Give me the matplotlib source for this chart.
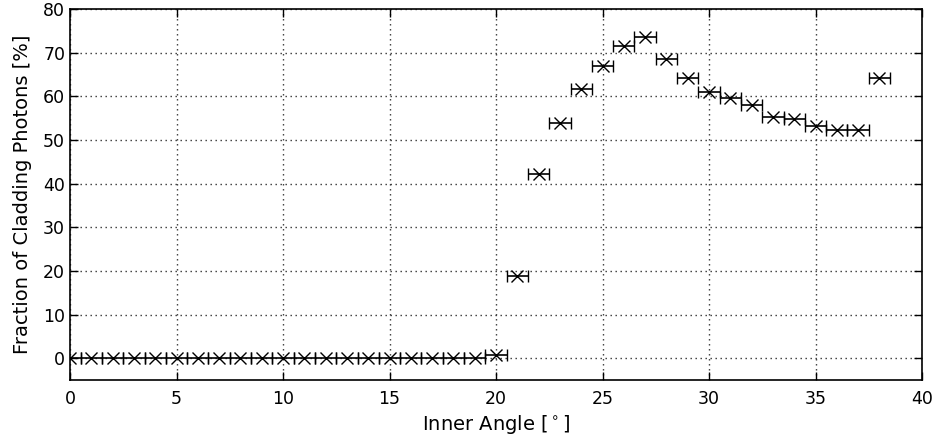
import numpy as np
import matplotlib
matplotlib.use('Agg')
import matplotlib.pyplot as plt

inner_angle = list(range(0, 39))
angle_err = [0.5] * len(inner_angle)
cladding_fraction = [0.0] * 20 + [
    0.8, 18.8, 42.2, 53.9, 61.6, 67.0, 71.5, 73.5, 68.5, 64.1,
    60.9, 59.6, 57.9, 55.3, 54.8, 53.1, 52.3, 52.3, 64.1,
]

fig = plt.figure(figsize=(9.44, 4.41), dpi=100)
ax = fig.add_axes([70 / 944, 61 / 441, 852 / 944, 371 / 441])

ax.errorbar(inner_angle, cladding_fraction, xerr=angle_err, fmt='x', color='black',
            ecolor='black', markersize=9, mew=1.0, elinewidth=1.2, capsize=4, capthick=1.0)

ax.set_xlim(0, 40)
ax.set_ylim(-5, 80)
ax.set_xticks(range(0, 41, 5))
ax.set_yticks(range(0, 81, 10))
ax.grid(True, color='0.2', linestyle=(0, (1, 2.6)), linewidth=1.0)
ax.tick_params(direction='in', top=True, right=True, labelsize=12.5, length=6, width=1)
ax.tick_params(axis='x', pad=7)
for spine in ax.spines.values():
    spine.set_linewidth(1.2)

ax.set_xlabel('Inner Angle [$^\\circ$]', fontsize=14, labelpad=4)
ax.set_ylabel('Fraction of Cladding Photons [%]', fontsize=14, labelpad=8)

fig.savefig('out.png', dpi=100)
